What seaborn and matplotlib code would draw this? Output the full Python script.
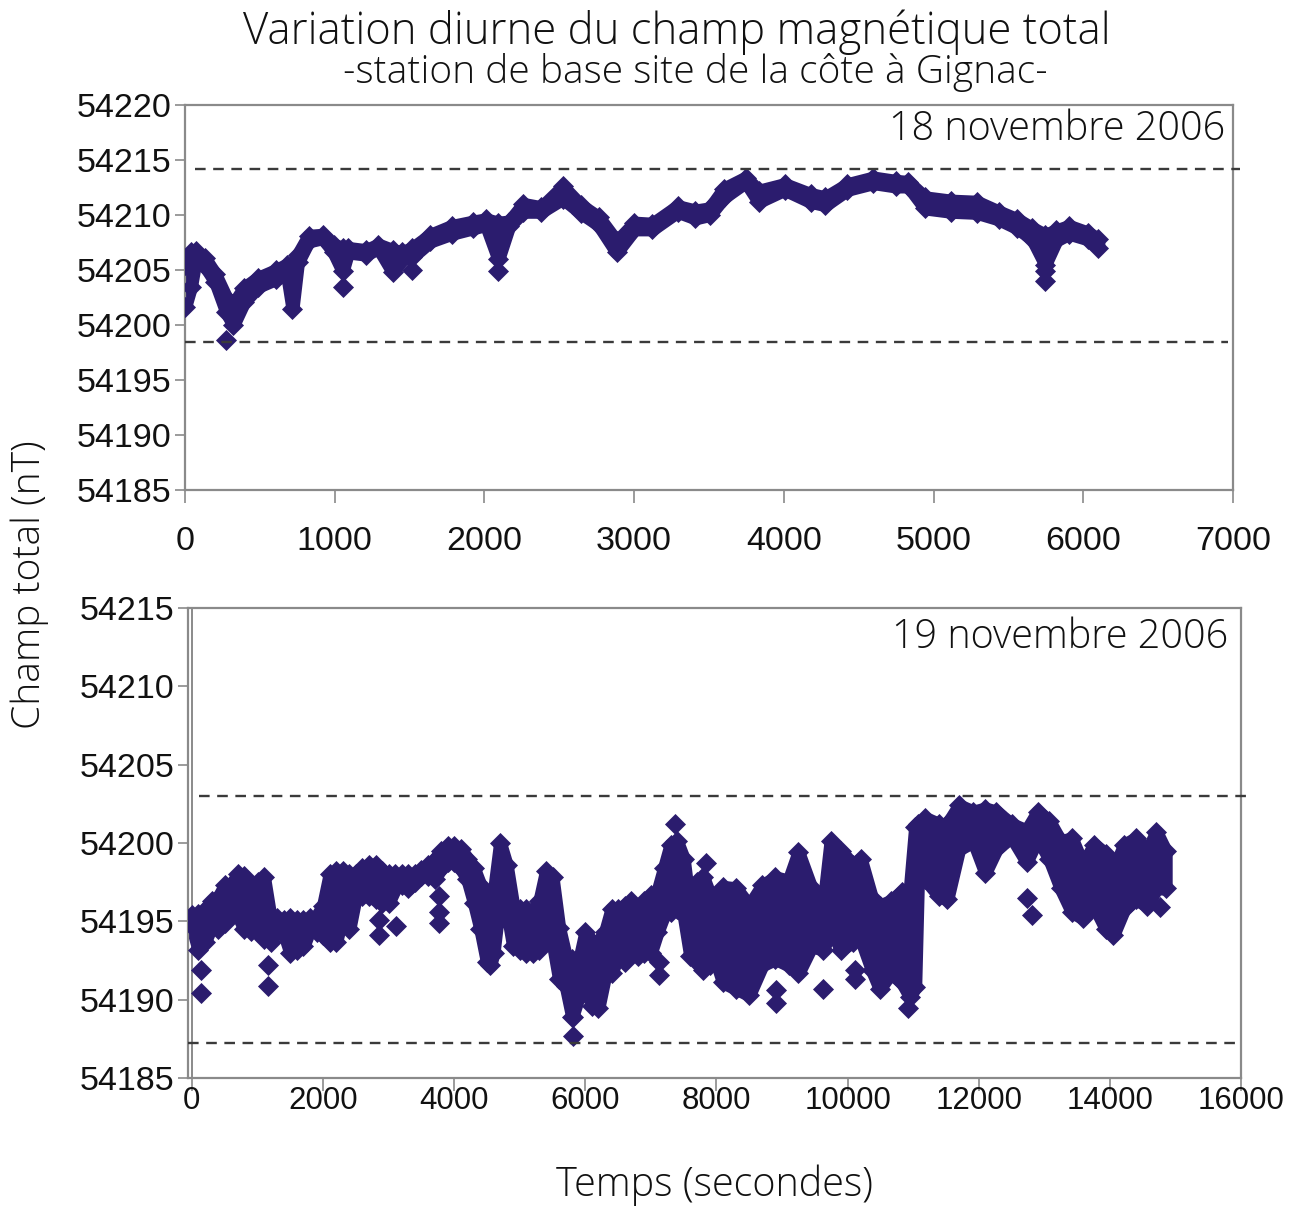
import matplotlib
matplotlib.use("Agg")
import matplotlib.pyplot as plt
import pandas as pd
import seaborn as sns
from matplotlib.ticker import FormatStrFormatter

# ---------------- data ----------------
# 18 novembre 2006 : band of measurements (lower / upper marker centres)
t1 = [0, 40, 72, 132, 203, 275, 323, 395, 490, 610, 682, 718, 754, 825, 921, 993,
      1053, 1089, 1208, 1292, 1388, 1450, 1519, 1639, 1782, 1926, 2010, 2093, 2165,
      2260, 2380, 2524, 2643, 2763, 2883, 3002, 3122, 3290, 3409, 3505, 3600, 3746,
      3832, 4005, 4178, 4277, 4425, 4598, 4746, 4832, 4943, 5116, 5289, 5437, 5560,
      5660, 5746, 5820, 5906, 6030, 6100]
lo1 = [54201.6, 54203.5, 54206.0, 54205.4, 54203.9, 54201.2, 54200.0, 54202.1, 54203.5, 54204.2,
       54204.6, 54201.5, 54205.7, 54207.6, 54207.9, 54206.6, 54204.9, 54206.6, 54206.4, 54207.0,
       54204.8, 54206.0, 54206.2, 54207.6, 54208.3, 54208.8, 54209.1, 54206.0, 54209.0, 54210.3,
       54210.3, 54211.5, 54210.2, 54209.1, 54206.6, 54208.7, 54208.7, 54210.3, 54209.7, 54210.0,
       54211.6, 54213.0, 54211.2, 54212.3, 54211.2, 54210.9, 54212.3, 54212.9, 54212.6, 54212.6,
       54210.6, 54210.3, 54210.2, 54209.6, 54208.8, 54207.8, 54205.5, 54207.7, 54208.3, 54207.8,
       54207.0]
hi1 = [54205.5, 54206.6, 54206.7, 54206.1, 54204.6, 54202.5, 54201.9, 54203.4, 54204.3, 54205.0,
       54205.5, 54205.5, 54206.4, 54208.1, 54208.2, 54207.3, 54207.0, 54207.0, 54206.8, 54207.3,
       54206.8, 54206.6, 54207.0, 54208.2, 54209.0, 54209.4, 54209.6, 54209.3, 54209.4, 54211.0,
       54210.7, 54212.6, 54210.9, 54209.8, 54207.6, 54209.3, 54209.2, 54210.8, 54210.4, 54210.6,
       54212.4, 54213.4, 54212.2, 54212.8, 54211.9, 54211.6, 54212.8, 54213.4, 54213.1, 54213.0,
       54211.6, 54211.3, 54211.2, 54210.3, 54209.6, 54208.8, 54208.2, 54208.6, 54209.0, 54208.4,
       54207.8]
out_t1 = [275, 1053, 2093, 5746, 5746, 1519]
out_v1 = [54198.6, 54203.5, 54204.9, 54204.9, 54204.0, 54205.0]
seuils1 = [54214.2, 54198.5]

# 19 novembre 2006
t2 = [0, 100, 200, 300, 400, 500, 600, 700, 800, 900, 1000, 1100, 1200, 1300, 1400, 1500,
      1600, 1700, 1800, 1900, 2000, 2100, 2200, 2300, 2400, 2500, 2600, 2700, 2800, 2900,
      3000, 3100, 3200, 3300, 3400, 3500, 3600, 3700, 3800, 3900, 4000, 4100, 4200, 4300,
      4400, 4500, 4550, 4600, 4700, 4800, 4900, 5000, 5100, 5200, 5300, 5400, 5500, 5600,
      5700, 5800, 5900, 6000, 6100, 6200, 6300, 6400, 6500, 6600, 6700, 6800, 6900, 7000,
      7100, 7200, 7300, 7400, 7500, 7600, 7700, 7800, 7900, 8000, 8100, 8300, 8500, 8700,
      8900, 9100, 9250, 9450, 9630, 9740, 9900, 10080, 10200, 10370, 10490, 10660, 10830,
      10950, 11030, 11080, 11180, 11400, 11520, 11700, 11920, 12100, 12270, 12500, 12730,
      12900, 13075, 13250, 13420, 13590, 13760, 13940, 14050, 14220, 14400, 14570, 14710,
      14850]
hi2 = [54195.4, 54195.5, 54195.7, 54196.3, 54196.5, 54197.3, 54197.3, 54198.0, 54197.9, 54196.9,
       54197.5, 54197.8, 54195.2, 54195.2, 54195.1, 54195.2, 54195.1, 54195.1, 54195.2, 54195.3,
       54196.0, 54198.0, 54198.2, 54198.2, 54198.0, 54198.0, 54198.4, 54198.6, 54198.6, 54198.2,
       54198.0, 54198.0, 54198.0, 54198.0, 54198.0, 54198.3, 54198.6, 54198.9, 54199.5, 54199.8,
       54199.8, 54199.6, 54199.0, 54198.4, 54197.3, 54196.3, 54195.0, 54196.7, 54200.0, 54198.6,
       54196.0, 54195.8, 54195.8, 54195.6, 54196.3, 54198.2, 54197.8, 54194.6, 54192.8, 54192.6,
       54192.4, 54194.3, 54193.7, 54193.7, 54194.3, 54195.8, 54195.8, 54196.0, 54196.3, 54195.6,
       54196.3, 54196.7, 54196.9, 54198.4, 54199.9, 54200.1, 54199.0, 54195.6, 54197.5, 54197.8,
       54196.7, 54196.7, 54197.2, 54197.1, 54196.0, 54197.3, 54197.8, 54197.6, 54199.4, 54197.1,
       54196.0, 54200.1, 54199.5, 54198.6, 54199.0, 54196.5, 54196.0, 54196.3, 54196.9, 54197.1,
       54201.0, 54201.2, 54201.6, 54201.2, 54201.2, 54202.4, 54202.0, 54202.2, 54202.0, 54201.2,
       54200.8, 54202.0, 54201.4, 54200.1, 54200.3, 54198.6, 54199.9, 54199.3, 54198.2, 54199.9,
       54200.3, 54199.5, 54200.7, 54199.5]
lo2 = [54194.7, 54193.2, 54193.7, 54194.7, 54194.5, 54194.9, 54195.4, 54195.4, 54194.5, 54194.4,
       54194.3, 54193.9, 54193.7, 54194.5, 54194.3, 54193.0, 54193.2, 54193.4, 54194.5, 54194.3,
       54194.1, 54193.7, 54193.7, 54195.4, 54194.5, 54196.6, 54196.6, 54196.6, 54196.4, 54196.2,
       54196.2, 54197.1, 54197.3, 54197.1, 54197.5, 54197.9, 54197.9, 54197.7, 54198.4, 54198.8,
       54198.8, 54198.4, 54197.7, 54196.2, 54194.5, 54192.4, 54192.2, 54193.0, 54196.6, 54195.8,
       54193.4, 54193.2, 54193.0, 54193.0, 54193.2, 54193.9, 54193.7, 54191.3, 54190.9, 54188.9,
       54190.2, 54191.3, 54189.6, 54189.5, 54191.5, 54191.7, 54192.8, 54192.4, 54193.0, 54192.8,
       54193.0, 54193.0, 54194.3, 54195.4, 54195.6, 54195.8, 54195.4, 54192.8, 54192.4, 54191.9,
       54192.2, 54192.4, 54191.1, 54190.7, 54190.3, 54192.2, 54192.6, 54192.2, 54191.7, 54193.4,
       54193.2, 54194.5, 54193.2, 54193.7, 54193.9, 54191.9, 54190.7, 54191.7, 54191.1, 54190.2,
       54190.8, 54199.0, 54197.7, 54196.6, 54196.4, 54199.6, 54200.1, 54198.1, 54199.6, 54200.4,
       54198.8, 54200.3, 54199.0, 54197.1, 54195.6, 54195.2, 54196.0, 54194.5, 54194.1, 54195.8,
       54196.4, 54196.0, 54197.1, 54197.1]
out_t2 = [136, 136, 1166, 1166, 2847, 2847, 3107, 3769, 3769, 3769, 5819, 5819, 7131, 7131,
          7375, 7840, 8908, 8908, 9626, 10115, 10115, 10920, 12730, 12816, 14770]
out_v2 = [54191.9, 54190.4, 54192.2, 54190.9, 54195.1, 54194.1, 54194.7, 54196.6, 54195.6,
          54194.9, 54188.9, 54187.7, 54192.4, 54191.6, 54201.2, 54198.7, 54190.6, 54189.8,
          54190.7, 54191.9, 54191.3, 54189.5, 54196.5, 54195.4, 54195.9]
seuils2 = [54203.0, 54187.25]

xticks1 = [0, 1000, 2000, 3000, 4000, 5000, 6000, 7000]
yticks1 = [54185, 54190, 54195, 54200, 54205, 54210, 54215, 54220]
xticks2 = [0, 2000, 4000, 6000, 8000, 10000, 12000, 14000, 16000]
yticks2 = [54185, 54190, 54195, 54200, 54205, 54210, 54215]

titre = "Variation diurne du champ magnétique total"
sous_titre = "-station de base site de la côte à Gignac-"
date1 = "18 novembre 2006"
date2 = "19 novembre 2006"
ylabel = "Champ total (nT)"
xlabel = "Temps (secondes)"

# ---------------- style ----------------
sns.set_theme(style="white")
plt.rcParams['font.family'] = ['Liberation Sans', 'DejaVu Sans']
GEO = ['Open Sans', 'DejaVu Sans']

W, H = 1299, 1207
fig = plt.figure(figsize=(W / 100, H / 100), dpi=100)
fig.patch.set_facecolor("white")

COL = "#2b1c6e"
SPINE = "#8a8a8a"
DASH = "#3a3a3a"


def fx(px):
    return px / W


def fy(py):
    return 1 - py / H


ax1 = fig.add_axes([fx(185), fy(490), fx(1233 - 185), (490 - 105) / H])
ax2 = fig.add_axes([fx(188), fy(1078), fx(1241 - 188), (1078 - 608) / H])


def panel(ax, t, lo, hi, ot, ov, seuils, xlim, xticks, ylim, yticks, xlab_size, xpad):
    ax.set_facecolor("white")
    ax.fill_between(t, lo, hi, facecolor=COL, edgecolor=COL, lw=9.5,
                    joinstyle='round', zorder=2)
    pts = pd.DataFrame({"t": list(t) + list(t) + list(ot),
                        "v": list(lo) + list(hi) + list(ov)})
    sns.scatterplot(data=pts, x="t", y="v", marker="D", s=115, color=COL,
                    linewidth=0, ax=ax, zorder=3, legend=False)
    ax.axhline(seuils[0], xmin=0.01, xmax=1.007, color=DASH, lw=1.7,
               ls=(0, (4.5, 3.2)), clip_on=False, zorder=4)
    ax.axhline(seuils[1], xmin=0.0, xmax=0.995, color=DASH, lw=1.7,
               ls=(0, (4.5, 3.2)), clip_on=False, zorder=4)
    ax.set_xlim(*xlim)
    ax.set_ylim(*ylim)
    ax.set_xticks(xticks)
    ax.set_yticks(yticks)
    ax.yaxis.set_major_formatter(FormatStrFormatter('%d'))
    ax.xaxis.set_major_formatter(FormatStrFormatter('%d'))
    ax.set_xlabel("")
    ax.set_ylabel("")
    for s in ax.spines.values():
        s.set_color(SPINE)
        s.set_linewidth(1.6)
        s.set_visible(True)
    ax.tick_params(axis='y', left=True, direction='out', length=7, width=1.2,
                   color=SPINE, pad=3, labelsize=24.5, labelcolor='#111111')
    ax.tick_params(axis='x', bottom=True, direction='out', length=9, width=1.2,
                   color=SPINE, pad=xpad, labelsize=xlab_size, labelcolor='#111111')
    ax.grid(False)


panel(ax1, t1, lo1, hi1, out_t1, out_v1, seuils1, (0, 7000), xticks1,
      (54185, 54220), yticks1, 24.5, 17)
panel(ax2, t2, lo2, hi2, out_t2, out_v2, seuils2, (-60, 16000), xticks2,
      (54185, 54215), yticks2, 22.5, -3)
# second vertical line (value axis at x = 0) as in the original
ax2.axvline(0, color=SPINE, lw=1.4, zorder=1)

# ---------------- texts ----------------
fig.text(fx(677), fy(32), titre, ha='center', va='center', fontsize=31.5,
         family=GEO, fontweight='light', color='#111111')
fig.text(fx(695), fy(72), sous_titre, ha='center', va='center', fontsize=28,
         family=GEO, fontweight='light', color='#111111')
fig.text(fx(1225), fy(130), date1, ha='right', va='center', fontsize=28.5,
         family=GEO, fontweight='light', color='#111111')
fig.text(fx(1228), fy(637), date2, ha='right', va='center', fontsize=28.5,
         family=GEO, fontweight='light', color='#111111')
fig.text(fx(30), fy(585), ylabel, ha='center', va='center', rotation=90,
         fontsize=28, family=GEO, fontweight='light', color='#111111')
fig.text(fx(715), fy(1185), xlabel, ha='center', va='center', fontsize=28.5,
         family=GEO, fontweight='light', color='#111111')

fig.savefig("out.png", dpi=100, facecolor="white")
